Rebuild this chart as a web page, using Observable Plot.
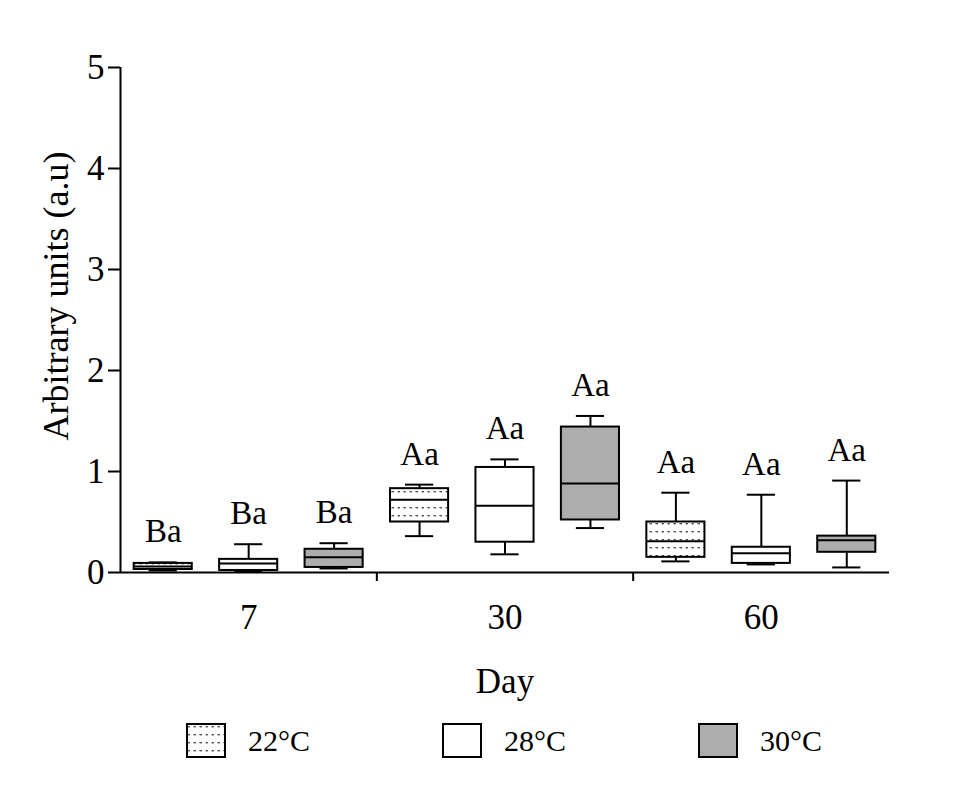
<!DOCTYPE html>
<html><head><meta charset="utf-8">
<script src="https://cdn.jsdelivr.net/npm/d3@7"></script>
<script src="https://cdn.jsdelivr.net/npm/@observablehq/plot@0.6"></script>
<style>
html,body{margin:0;padding:0;background:#fff;}
#chart{position:relative;width:960px;height:787px;font-family:"Liberation Serif","Times New Roman",serif;color:#000;}
#legend{position:absolute;left:186px;top:723px;display:flex;}
.item{width:256px;display:flex;align-items:center;font-size:30px;height:35px;}
.item svg{margin-right:22px;flex:none;}
</style></head><body><div id="chart"></div>
<script>
const days = ["7", "30", "60"];
const temps = ["22°C", "28°C", "30°C"];
// per box, in order day 7 (22,28,30), day 30 (...), day 60 (...)
const whiskerLow  = [0.02, 0.01, 0.04, 0.36, 0.18, 0.44, 0.11, 0.08, 0.05];
const q1          = [0.03, 0.02, 0.05, 0.50, 0.30, 0.52, 0.15, 0.09, 0.20];
const median      = [0.06, 0.09, 0.15, 0.72, 0.66, 0.88, 0.31, 0.19, 0.32];
const q3          = [0.09, 0.13, 0.23, 0.83, 1.04, 1.44, 0.50, 0.25, 0.36];
const whiskerHigh = [0.10, 0.28, 0.29, 0.87, 1.12, 1.55, 0.79, 0.77, 0.91];
const letters = ["Ba", "Ba", "Ba", "Aa", "Aa", "Aa", "Aa", "Aa", "Aa"];
const yTicks = [0, 1, 2, 3, 4, 5];
const yLabel = "Arbitrary units (a.u)";
const xLabel = "Day";

const fills = {"22°C": "url(#dots)", "28°C": "white", "30°C": "#adadad"};

const nT = temps.length;
const rows = q1.map((_, i) => ({
  day: days[Math.floor(i / nT)],
  temp: temps[i % nT],
  pos: i,
  lo: whiskerLow[i], q1: q1[i], median: median[i], q3: q3[i], hi: whiskerHigh[i],
  letter: letters[i]
}));
const centers = days.map((_, i) => i * nT + (nT - 1) / 2);
const boundaries = days.slice(1).map((_, i) => (i + 1) * nT - 0.5);
const xMin = -0.5, xMax = days.length * nT - 0.5;

const hw = 0.34, cw = 0.165, sw = 2;

const boxMarks = temps.map(t => Plot.rectY(rows, {
  filter: d => d.temp === t,
  x1: d => d.pos - hw, x2: d => d.pos + hw, y1: "q1", y2: "q3",
  fill: fills[t], stroke: "black", strokeWidth: sw
}));

const plot = Plot.plot({
  width: 960, height: 705,
  marginLeft: 120, marginRight: 71, marginTop: 67, marginBottom: 133,
  style: {fontFamily: "'Liberation Serif','Times New Roman',serif", color: "black", background: "white", overflow: "visible"},
  x: {domain: [xMin, xMax]},
  y: {domain: [0, 5]},
  marks: [
    Plot.axisY({ticks: yTicks, tickSize: 12, tickPadding: 4, fontSize: 35, strokeWidth: sw,
      tickFormat: d3.format("d"), label: null}),
    Plot.text([yLabel], {frameAnchor: "left", rotate: -90, dx: -64, dy: -24, fontSize: 36,
      textAnchor: "middle", lineAnchor: "middle", fill: "black"}),
    Plot.axisX({ticks: boundaries, tickSize: 9, tickFormat: () => "", strokeWidth: sw, label: null}),
    Plot.axisX({ticks: centers, tickSize: 0, tickPadding: 32, fontSize: 35,
      tickFormat: d => days[Math.round((d - (nT - 1) / 2) / nT)],
      label: xLabel, labelAnchor: "center", labelArrow: "none", labelOffset: 120}),
    Plot.ruleY([0], {strokeWidth: sw}),
    Plot.ruleX([xMin], {y1: 0, y2: 5, strokeWidth: sw}),
    Plot.ruleX(rows, {x: "pos", y1: "lo", y2: "q1", strokeWidth: sw}),
    Plot.ruleX(rows, {x: "pos", y1: "q3", y2: "hi", strokeWidth: sw}),
    Plot.ruleY(rows, {y: "hi", x1: d => d.pos - cw, x2: d => d.pos + cw, strokeWidth: sw}),
    Plot.ruleY(rows, {y: "lo", x1: d => d.pos - cw, x2: d => d.pos + cw, strokeWidth: sw}),
    ...boxMarks,
    Plot.ruleY(rows, {y: "median", x1: d => d.pos - hw, x2: d => d.pos + hw, strokeWidth: sw}),
    Plot.text(rows, {x: "pos", y: "hi", text: "letter", dy: -20, lineAnchor: "bottom", fontSize: 33, fill: "black"})
  ]
});

// pattern defs
const NS = "http://www.w3.org/2000/svg";
const defs = document.createElementNS(NS, "defs");
defs.innerHTML = '<pattern id="dots" patternUnits="userSpaceOnUse" width="6" height="8">' +
  '<rect width="6" height="8" fill="white"/>' +
  '<rect x="1.5" y="3" width="2.5" height="1.4" fill="#555"/></pattern>';
plot.insertBefore(defs, plot.firstChild);

const chart = document.getElementById("chart");
chart.appendChild(plot);

const legend = document.createElement("div");
legend.id = "legend";
temps.forEach(t => {
  const item = document.createElement("div");
  item.className = "item";
  item.innerHTML = '<svg width="40" height="35"><rect x="1" y="1" width="38" height="33" fill="' + fills[t] +
    '" stroke="black" stroke-width="2"/></svg><span>' + t + '</span>';
  legend.appendChild(item);
});
chart.appendChild(legend);
</script></body></html>
